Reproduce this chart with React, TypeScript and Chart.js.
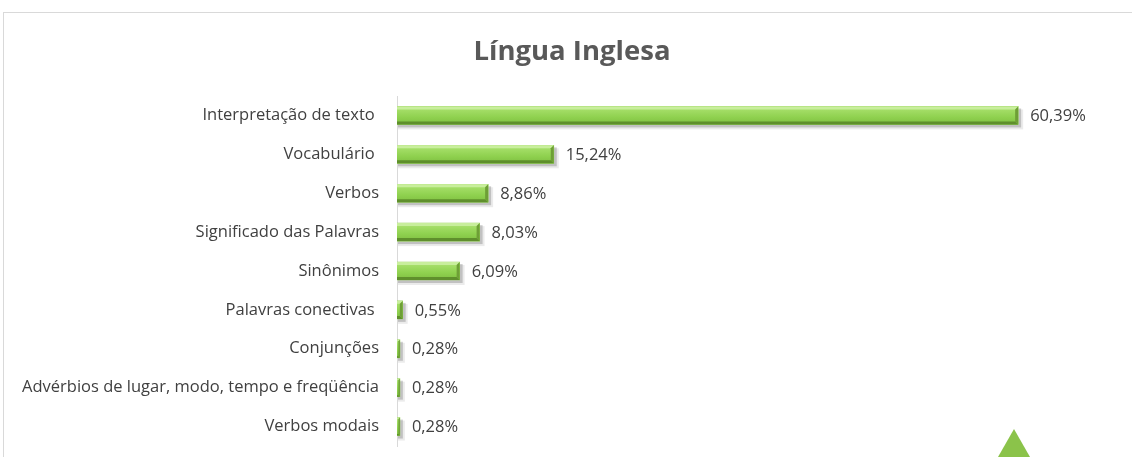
import React, { useEffect, useRef } from "react";
import { Chart, registerables } from "chart.js";

Chart.register(...registerables);

const title = "Língua Inglesa";
const categories = [
  "Interpretação de texto ",
  "Vocabulário ",
  "Verbos",
  "Significado das Palavras",
  "Sinônimos",
  "Palavras conectivas ",
  "Conjunções",
  "Advérbios de lugar, modo, tempo e freqüência",
  "Verbos modais",
];
const values = [60.39, 15.24, 8.86, 8.03, 6.09, 0.55, 0.28, 0.28, 0.28];
const valueLabels = ["60,39%", "15,24%", "8,86%", "8,03%", "6,09%", "0,55%", "0,28%", "0,28%", "0,28%"];
const axisMax = 70;

const FONT = "'Open Sans', 'Noto Sans', sans-serif";

const titlePlugin = {
  id: "customTitle",
  afterDraw(chart: any) {
    const ctx = chart.ctx;
    ctx.save();
    ctx.fillStyle = "#595959";
    ctx.font = `bold 27.5px ${FONT}`;
    ctx.textAlign = "center";
    ctx.textBaseline = "middle";
    ctx.fillText(title, 572, 52.5);
    ctx.restore();
  },
};

const bevelPlugin = {
  id: "bevel",
  beforeDatasetsDraw(chart: any) {
    const ctx = chart.ctx;
    const meta = chart.getDatasetMeta(0);
    ctx.save();
    meta.data.forEach((bar: any) => {
      const left = bar.base;
      const right = bar.x;
      const top = bar.y - bar.height / 2;
      const h = bar.height;
      ctx.fillStyle = "rgba(0,0,0,0.18)";
      ctx.fillRect(left + 1, top + 2, right - left + 2, h + 1);
      ctx.fillStyle = "rgba(0,0,0,0.08)";
      ctx.fillRect(left + 1, top + 3, right - left + 4, h + 2);
    });
    ctx.restore();
  },
  afterDatasetsDraw(chart: any) {
    const ctx = chart.ctx;
    const meta = chart.getDatasetMeta(0);
    ctx.save();
    meta.data.forEach((bar: any, i: number) => {
      const left = bar.base;
      const right = bar.x;
      const top = bar.y - bar.height / 2;
      const h = bar.height;
      const w = right - left;
      const g = ctx.createLinearGradient(0, top, 0, top + h);
      g.addColorStop(0, "#b9e788");
      g.addColorStop(0.2, "#a3dd66");
      g.addColorStop(0.6, "#8fd14f");
      g.addColorStop(1, "#7fbf41");
      ctx.fillStyle = g;
      ctx.fillRect(left, top, w, h);
      const b = Math.min(3, w / 2);
      ctx.fillStyle = "#c8ee9c";
      ctx.beginPath();
      ctx.moveTo(left, top);
      ctx.lineTo(right, top);
      ctx.lineTo(right - b, top + b);
      ctx.lineTo(left, top + b);
      ctx.closePath();
      ctx.fill();
      ctx.fillStyle = "#5f8f2c";
      ctx.beginPath();
      ctx.moveTo(left, top + h);
      ctx.lineTo(right, top + h);
      ctx.lineTo(right - b, top + h - b);
      ctx.lineTo(left, top + h - b);
      ctx.closePath();
      ctx.fill();
      ctx.fillStyle = "#6e9f36";
      ctx.beginPath();
      ctx.moveTo(right, top);
      ctx.lineTo(right, top + h);
      ctx.lineTo(right - b, top + h - b);
      ctx.lineTo(right - b, top + b);
      ctx.closePath();
      ctx.fill();
      ctx.fillStyle = "#404040";
      ctx.font = `16.5px ${FONT}`;
      ctx.textAlign = "left";
      ctx.textBaseline = "middle";
      ctx.fillText(valueLabels[i], right + 12, bar.y + 1);
    });
    ctx.restore();
  },
};

export default function App() {
  const ref = useRef<HTMLCanvasElement | null>(null);
  useEffect(() => {
    document.body.style.margin = "0";
    const chart = new Chart(ref.current!, {
      type: "bar",
      data: {
        labels: categories,
        datasets: [
          {
            data: values,
            backgroundColor: "#92d050",
            borderWidth: 0,
            barThickness: 18,
          },
        ],
      },
      plugins: [bevelPlugin, titlePlugin],
      options: {
        indexAxis: "y",
        animation: false,
        responsive: false,
        maintainAspectRatio: false,
        layout: { padding: { left: 0, right: 15, top: 96, bottom: 11 } },
        plugins: {
          legend: { display: false },
          tooltip: { enabled: false },
          title: { display: false },
        },
        scales: {
          x: {
            display: false,
            min: 0,
            max: axisMax,
          },
          y: {
            afterFit(scale: any) {
              scale.width = 397;
              scale.paddingTop = 0;
              scale.paddingBottom = 0;
            },
            grid: { display: false, drawTicks: false },
            border: { display: true, color: "#d9d9d9", width: 1 },
            ticks: {
              color: "#404040",
              font: { family: FONT, size: 16.5 },
              padding: 18,
            },
          },
        },
      },
    });
    return () => chart.destroy();
  }, []);
  return (
    <div style={{ position: "relative", width: 1132, height: 457, overflow: "hidden", background: "#fff" }}>
      <div
        style={{
          position: "absolute",
          left: 3,
          top: 12,
          width: 1140,
          height: 460,
          border: "1px solid #d9d9d9",
          boxSizing: "border-box",
        }}
      />
      <canvas ref={ref} width={1132} height={457} style={{ position: "absolute", left: 0, top: 0 }} />
      <div
        style={{
          position: "absolute",
          left: 998,
          top: 429,
          width: 0,
          height: 0,
          borderLeft: "16px solid transparent",
          borderRight: "16px solid transparent",
          borderBottom: "28px solid #8bc34a",
        }}
      />
    </div>
  );
}
